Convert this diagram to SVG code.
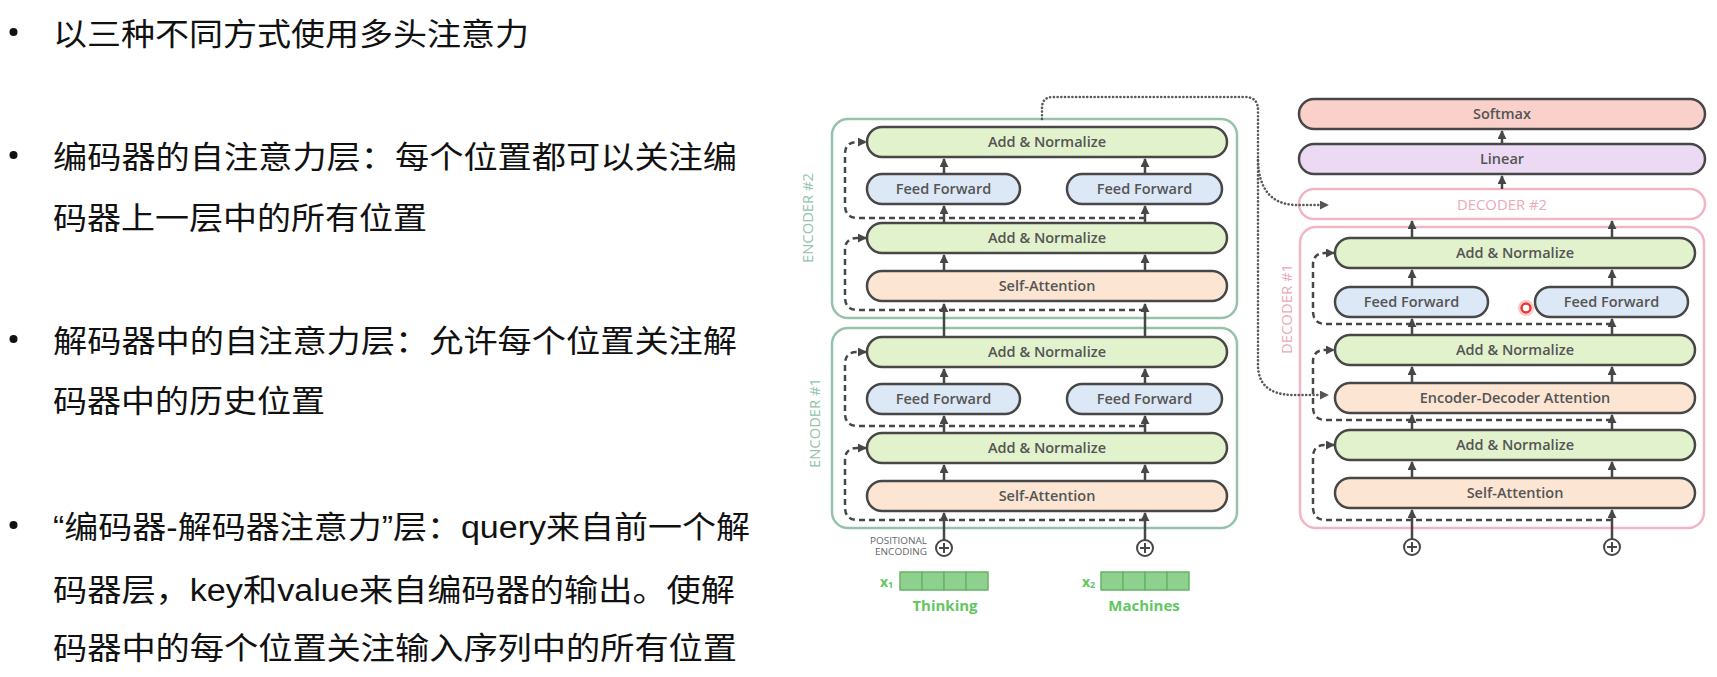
<svg xmlns="http://www.w3.org/2000/svg" width="1717" height="677" viewBox="0 0 1717 677">
<defs>
<style>
.bt{font-family:"Liberation Sans","Noto Sans CJK SC",sans-serif;font-size:31px;fill:#111}
.lay{stroke:#474747;stroke-width:2.5}
.an{fill:#e1f2cd}.ff{fill:#dde8f6}.sa{fill:#fce6d3}
.lt{font-family:"Open Sans","Noto Sans",sans-serif;font-size:14.5px;font-weight:600;fill:#555;text-anchor:middle}
.enc{fill:none;stroke:#96c2ab;stroke-width:2.5}
.dec{fill:none;stroke:#f1b6c3;stroke-width:2.5}
.elab{font-family:"Open Sans","Noto Sans",sans-serif;font-size:14px;fill:#93c3aa;text-anchor:middle}
.dlab{font-family:"Open Sans","Noto Sans",sans-serif;font-size:14px;fill:#eba9b9;text-anchor:middle}
.sol{fill:none;stroke:#474747;stroke-width:2.5}
.dash{fill:none;stroke:#474747;stroke-width:2.5;stroke-dasharray:6 4}
.dot{fill:none;stroke:#5a5a5a;stroke-width:2.6;stroke-dasharray:0.1 3.6;stroke-linecap:round}
.plus{fill:#fff;stroke:#474747;stroke-width:2}
.cell{fill:#8ed08e;stroke:#66b566;stroke-width:1.5}
.gt{font-family:"Open Sans","Noto Sans",sans-serif;font-weight:700;fill:#62c662}
.pe{font-family:"Open Sans","Noto Sans",sans-serif;font-size:9.5px;fill:#666;text-anchor:end}
</style>
<marker id="ah" viewBox="0 0 10 10" refX="9" refY="5" markerWidth="9" markerHeight="9" markerUnits="userSpaceOnUse" orient="auto">
<path d="M0,0 L10,5 L0,10 z" fill="#474747"/>
</marker>
<marker id="ahd" viewBox="0 0 10 10" refX="9" refY="5" markerWidth="9" markerHeight="9" markerUnits="userSpaceOnUse" orient="auto">
<path d="M0,0 L10,5 L0,10 z" fill="#555"/>
</marker>
</defs>
<rect width="1717" height="677" fill="#fff"/>

<g id="bullets">
<circle cx="13.5" cy="32" r="4" fill="#111"/>
<circle cx="13.5" cy="155" r="4" fill="#111"/>
<circle cx="13.5" cy="339" r="4" fill="#111"/>
<circle cx="13.5" cy="525" r="4" fill="#111"/>
<text class="bt" x="53" y="45" textLength="476" lengthAdjust="spacingAndGlyphs">以三种不同方式使用多头注意力</text>
<text class="bt" x="53" y="168" textLength="684" lengthAdjust="spacingAndGlyphs">编码器的自注意力层：每个位置都可以关注编</text>
<text class="bt" x="53" y="229" textLength="374" lengthAdjust="spacingAndGlyphs">码器上一层中的所有位置</text>
<text class="bt" x="53" y="352" textLength="684" lengthAdjust="spacingAndGlyphs">解码器中的自注意力层：允许每个位置关注解</text>
<text class="bt" x="53" y="412" textLength="272" lengthAdjust="spacingAndGlyphs">码器中的历史位置</text>
<text class="bt" x="53" y="538" textLength="697" lengthAdjust="spacingAndGlyphs">“编码器-解码器注意力”层：query来自前一个解</text>
<text class="bt" x="53" y="601" textLength="682" lengthAdjust="spacingAndGlyphs">码器层，key和value来自编码器的输出。使解</text>
<text class="bt" x="53" y="659" textLength="684" lengthAdjust="spacingAndGlyphs">码器中的每个位置关注输入序列中的所有位置</text>
</g>

<g id="encoder2">
<rect class="enc" x="832" y="119" width="405" height="199" rx="16"/>
<text class="elab" transform="translate(808,218) rotate(-90)" x="0" y="5" textLength="90" lengthAdjust="spacingAndGlyphs">ENCODER #2</text>
</g>
<g id="encoder1">
<rect class="enc" x="832" y="328" width="405" height="200" rx="16"/>
<text class="elab" transform="translate(815,423) rotate(-90)" x="0" y="5" textLength="90" lengthAdjust="spacingAndGlyphs">ENCODER #1</text>
</g>
<g id="decoder1">
<rect class="dec" x="1300" y="227" width="404" height="301" rx="16"/>
<text class="dlab" transform="translate(1287,309) rotate(-90)" x="0" y="5" textLength="90" lengthAdjust="spacingAndGlyphs">DECODER #1</text>
</g>
<g id="decoder2">
<rect class="dec" x="1299" y="189" width="406" height="30" rx="15" fill="#fff"/>
<text class="dlab" x="1502" y="210" textLength="90" lengthAdjust="spacingAndGlyphs">DECODER #2</text>
</g>

<g id="connectors">
<path class="dash" d="M1145,310 H858 Q845,310 845,297 V250 Q845,238 857,238 H866" marker-end="url(#ah)"/>
<path class="dash" d="M1145,218 H858 Q845,218 845,205 V154 Q845,142 857,142 H866" marker-end="url(#ah)"/>
<path class="dash" d="M1145,520 H858 Q845,520 845,507 V460 Q845,448 857,448 H866" marker-end="url(#ah)"/>
<path class="dash" d="M1145,426 H858 Q845,426 845,413 V364 Q845,352 857,352 H866" marker-end="url(#ah)"/>
<path class="dash" d="M1612,520 H1326 Q1313,520 1313,507 V457 Q1313,445 1325,445 H1334" marker-end="url(#ah)"/>
<path class="dash" d="M1612,420 H1326 Q1313,420 1313,407 V362 Q1313,350 1325,350 H1334" marker-end="url(#ah)"/>
<path class="dash" d="M1612,324 H1326 Q1313,324 1313,311 V265 Q1313,253 1325,253 H1334" marker-end="url(#ah)"/>
<line class="sol" x1="944" y1="540" x2="944" y2="513" marker-end="url(#ah)"/>
<line class="sol" x1="1145" y1="540" x2="1145" y2="513" marker-end="url(#ah)"/>
<line class="sol" x1="944" y1="481" x2="944" y2="465" marker-end="url(#ah)"/>
<line class="sol" x1="1145" y1="481" x2="1145" y2="465" marker-end="url(#ah)"/>
<line class="sol" x1="944" y1="433" x2="944" y2="416" marker-end="url(#ah)"/>
<line class="sol" x1="1145" y1="433" x2="1145" y2="416" marker-end="url(#ah)"/>
<line class="sol" x1="944" y1="384" x2="944" y2="369" marker-end="url(#ah)"/>
<line class="sol" x1="1145" y1="384" x2="1145" y2="369" marker-end="url(#ah)"/>
<line class="sol" x1="944" y1="337" x2="944" y2="304" marker-end="url(#ah)"/>
<line class="sol" x1="1145" y1="337" x2="1145" y2="304" marker-end="url(#ah)"/>
<line class="sol" x1="944" y1="271" x2="944" y2="255" marker-end="url(#ah)"/>
<line class="sol" x1="1145" y1="271" x2="1145" y2="255" marker-end="url(#ah)"/>
<line class="sol" x1="944" y1="223" x2="944" y2="206" marker-end="url(#ah)"/>
<line class="sol" x1="1145" y1="223" x2="1145" y2="206" marker-end="url(#ah)"/>
<line class="sol" x1="944" y1="174" x2="944" y2="159" marker-end="url(#ah)"/>
<line class="sol" x1="1145" y1="174" x2="1145" y2="159" marker-end="url(#ah)"/>
<line class="sol" x1="1412" y1="539" x2="1412" y2="510" marker-end="url(#ah)"/>
<line class="sol" x1="1612" y1="539" x2="1612" y2="510" marker-end="url(#ah)"/>
<line class="sol" x1="1412" y1="478" x2="1412" y2="462" marker-end="url(#ah)"/>
<line class="sol" x1="1612" y1="478" x2="1612" y2="462" marker-end="url(#ah)"/>
<line class="sol" x1="1412" y1="430" x2="1412" y2="415" marker-end="url(#ah)"/>
<line class="sol" x1="1612" y1="430" x2="1612" y2="415" marker-end="url(#ah)"/>
<line class="sol" x1="1412" y1="383" x2="1412" y2="367" marker-end="url(#ah)"/>
<line class="sol" x1="1612" y1="383" x2="1612" y2="367" marker-end="url(#ah)"/>
<line class="sol" x1="1412" y1="335" x2="1412" y2="319" marker-end="url(#ah)"/>
<line class="sol" x1="1612" y1="335" x2="1612" y2="319" marker-end="url(#ah)"/>
<line class="sol" x1="1412" y1="287" x2="1412" y2="270" marker-end="url(#ah)"/>
<line class="sol" x1="1612" y1="287" x2="1612" y2="270" marker-end="url(#ah)"/>
<line class="sol" x1="1412" y1="238" x2="1412" y2="221" marker-end="url(#ah)"/>
<line class="sol" x1="1612" y1="238" x2="1612" y2="221" marker-end="url(#ah)"/>
<line class="sol" x1="1502" y1="189" x2="1502" y2="176" marker-end="url(#ah)"/>
<line class="sol" x1="1502" y1="144" x2="1502" y2="131" marker-end="url(#ah)"/>
<path class="dot" d="M1042,119 V108 Q1042,97 1053,97 H1245 Q1258,97 1258,110 V365 Q1258,394 1292,395 H1328" marker-end="url(#ahd)"/>
<path class="dot" d="M1258,160 Q1259,204 1296,205 H1328" marker-end="url(#ahd)"/>
</g>

<g id="enc2-addnorm-top"><rect class="lay an" x="867" y="127" width="360" height="30" rx="15"/><text class="lt" x="1047" y="147">Add &amp; Normalize</text></g>
<g id="enc2-ff1"><rect class="lay ff" x="867" y="174" width="153" height="30" rx="15"/><text class="lt" x="943.5" y="194">Feed Forward</text></g>
<g id="enc2-ff2"><rect class="lay ff" x="1067" y="174" width="155" height="30" rx="15"/><text class="lt" x="1144.5" y="194">Feed Forward</text></g>
<g id="enc2-addnorm"><rect class="lay an" x="867" y="223" width="360" height="30" rx="15"/><text class="lt" x="1047" y="243">Add &amp; Normalize</text></g>
<g id="enc2-selfatt"><rect class="lay sa" x="867" y="271" width="360" height="30" rx="15"/><text class="lt" x="1047" y="291">Self-Attention</text></g>

<g id="enc1-addnorm-top"><rect class="lay an" x="867" y="337" width="360" height="30" rx="15"/><text class="lt" x="1047" y="357">Add &amp; Normalize</text></g>
<g id="enc1-ff1"><rect class="lay ff" x="867" y="384" width="153" height="30" rx="15"/><text class="lt" x="943.5" y="404">Feed Forward</text></g>
<g id="enc1-ff2"><rect class="lay ff" x="1067" y="384" width="155" height="30" rx="15"/><text class="lt" x="1144.5" y="404">Feed Forward</text></g>
<g id="enc1-addnorm"><rect class="lay an" x="867" y="433" width="360" height="30" rx="15"/><text class="lt" x="1047" y="453">Add &amp; Normalize</text></g>
<g id="enc1-selfatt"><rect class="lay sa" x="867" y="481" width="360" height="30" rx="15"/><text class="lt" x="1047" y="501">Self-Attention</text></g>

<g id="softmax"><rect class="lay" fill="#f9d1ca" x="1299" y="99" width="406" height="30" rx="15"/><text class="lt" x="1502" y="119">Softmax</text></g>
<g id="linear"><rect class="lay" fill="#ecdaf4" x="1299" y="144" width="406" height="30" rx="15"/><text class="lt" x="1502" y="164">Linear</text></g>

<g id="dec1-addnorm-top"><rect class="lay an" x="1335" y="238" width="360" height="30" rx="15"/><text class="lt" x="1515" y="258">Add &amp; Normalize</text></g>
<g id="dec1-ff1"><rect class="lay ff" x="1335" y="287" width="153" height="30" rx="15"/><text class="lt" x="1411.5" y="307">Feed Forward</text></g>
<g id="dec1-ff2"><rect class="lay ff" x="1535" y="287" width="153" height="30" rx="15"/><text class="lt" x="1611.5" y="307">Feed Forward</text></g>
<g id="dec1-addnorm-mid"><rect class="lay an" x="1335" y="335" width="360" height="30" rx="15"/><text class="lt" x="1515" y="355">Add &amp; Normalize</text></g>
<g id="dec1-encdec"><rect class="lay sa" x="1335" y="383" width="360" height="30" rx="15"/><text class="lt" x="1515" y="403">Encoder-Decoder Attention</text></g>
<g id="dec1-addnorm"><rect class="lay an" x="1335" y="430" width="360" height="30" rx="15"/><text class="lt" x="1515" y="450">Add &amp; Normalize</text></g>
<g id="dec1-selfatt"><rect class="lay sa" x="1335" y="478" width="360" height="30" rx="15"/><text class="lt" x="1515" y="498">Self-Attention</text></g>

<g id="pos-enc">
<text class="pe" x="927" y="544" textLength="57" lengthAdjust="spacingAndGlyphs">POSITIONAL</text>
<text class="pe" x="927" y="555" textLength="52" lengthAdjust="spacingAndGlyphs">ENCODING</text>
</g>
<g id="plus1"><circle class="plus" cx="944" cy="548" r="8"/><path d="M939,548 H949 M944,543 V553" stroke="#474747" stroke-width="2"/></g>
<g id="plus2"><circle class="plus" cx="1145" cy="548" r="8"/><path d="M1140,548 H1150 M1145,543 V553" stroke="#474747" stroke-width="2"/></g>
<g id="plus3"><circle class="plus" cx="1412" cy="547" r="8"/><path d="M1407,547 H1417 M1412,542 V552" stroke="#474747" stroke-width="2"/></g>
<g id="plus4"><circle class="plus" cx="1612" cy="547" r="8"/><path d="M1607,547 H1617 M1612,542 V552" stroke="#474747" stroke-width="2"/></g>

<g id="input-x1">
<text class="gt" x="880" y="587" font-size="14">x<tspan font-size="9" dy="1">1</tspan></text>
<rect class="cell" x="900" y="572" width="22" height="18"/><rect class="cell" x="922" y="572" width="22" height="18"/><rect class="cell" x="944" y="572" width="22" height="18"/><rect class="cell" x="966" y="572" width="22" height="18"/>
<text class="gt" x="945" y="611" font-size="15" text-anchor="middle">Thinking</text>
</g>
<g id="input-x2">
<text class="gt" x="1082" y="587" font-size="14">x<tspan font-size="9" dy="1">2</tspan></text>
<rect class="cell" x="1101" y="572" width="22" height="18"/><rect class="cell" x="1123" y="572" width="22" height="18"/><rect class="cell" x="1145" y="572" width="22" height="18"/><rect class="cell" x="1167" y="572" width="22" height="18"/>
<text class="gt" x="1144" y="611" font-size="15" text-anchor="middle">Machines</text>
</g>

<g id="cursor">
<circle cx="1526" cy="308" r="7" fill="none" stroke="#f7a0a0" stroke-width="2" opacity="0.6"/>
<circle cx="1526" cy="308" r="4.5" fill="#fff" stroke="#e53935" stroke-width="2.5"/>
</g>
</svg>
